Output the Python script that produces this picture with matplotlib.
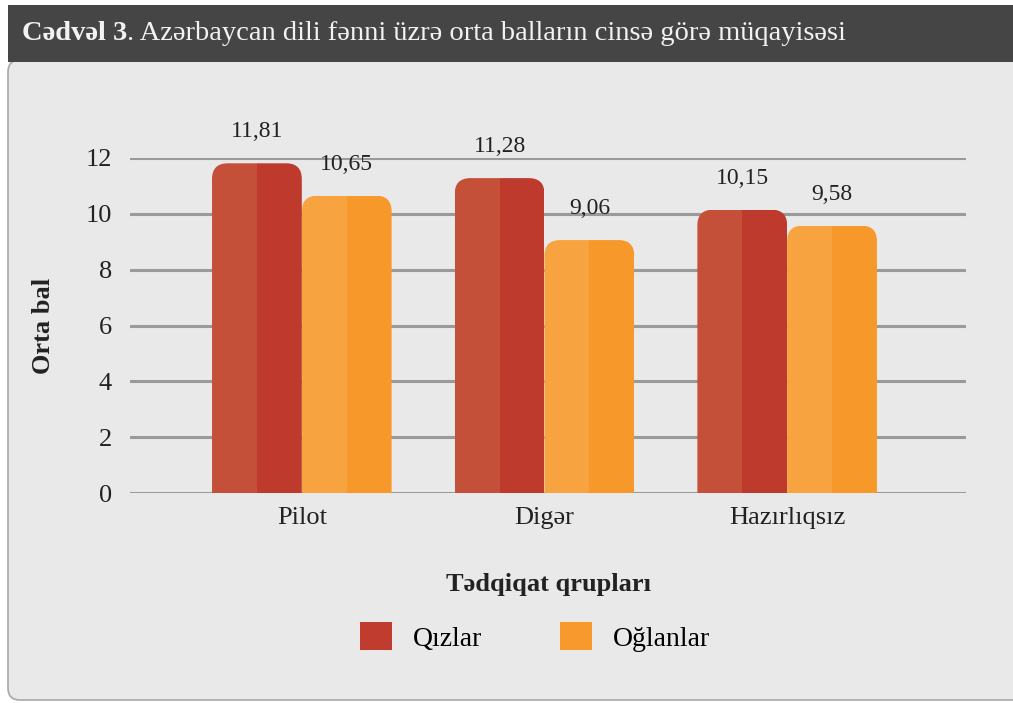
import matplotlib.pyplot as plt
from matplotlib.patches import Patch, Rectangle, FancyBboxPatch
import numpy as np

plt.rcParams['font.family'] = ['Liberation Serif', 'DejaVu Serif']

# Data
qruplar = ['Pilot', 'Digər', 'Hazırlıqsız']
qizlar = [11.81, 11.28, 10.15]
oglanlar = [10.65, 9.06, 9.58]
seriya_adlari = ['Qızlar', 'Oğlanlar']
yticks = [0, 2, 4, 6, 8, 10, 12]

qiz_renk = ('#c4503a', '#bd3a2d', '#c03c2e')
ogl_renk = ('#f7a440', '#f6982a', '#f7992c')

fig = plt.figure(figsize=(10.13, 7.03), dpi=100)
fig.patch.set_facecolor('white')

# panel + header (pixel coords)
panel = FancyBboxPatch((8, 3), 1100, 640, boxstyle='round,pad=0,rounding_size=12',
                       transform=None, facecolor='#e9e9e9', edgecolor='#a8a8a8', lw=1.2,
                       zorder=-2)
fig.patches.append(panel)
header = Rectangle((8, 641), 1010, 57, transform=None, facecolor='#454545',
                   edgecolor='none', zorder=-1)
fig.patches.append(header)

ax = fig.add_axes([130 / 1013, 210 / 703, 836 / 1013, 335 / 703])
ax.set_facecolor('none')
ax.set_zorder(2)
ax.set_xlim(-0.708, 2.737)
ax.set_ylim(0, 12)

x = np.arange(len(qruplar))
w = 0.37
q1 = ax.bar(x - 0.75 * w, qizlar, w / 2, color=qiz_renk[0], zorder=3)
q2 = ax.bar(x - 0.25 * w, qizlar, w / 2, color=qiz_renk[1], zorder=3)
o1 = ax.bar(x + 0.25 * w, oglanlar, w / 2, color=ogl_renk[0], zorder=3)
o2 = ax.bar(x + 0.75 * w, oglanlar, w / 2, color=ogl_renk[1], zorder=3)

# rounded top corners: clip each pair of halves to a rounded box
asp = (12 / 335) / (3.445 / 836)
for sol, sag in list(zip(q1, q2)) + list(zip(o1, o2)):
    x0 = sol.get_x()
    h = sol.get_height()
    kutu = FancyBboxPatch((x0, -1), 2 * sol.get_width(), h + 1,
                          boxstyle='round,pad=0,rounding_size=0.065', mutation_aspect=asp,
                          transform=ax.transData, facecolor='none', edgecolor='none')
    ax.add_patch(kutu)
    sol.set_clip_path(kutu)
    sag.set_clip_path(kutu)

for i in range(len(qruplar)):
    ax.annotate(f'{qizlar[i]:.2f}'.replace('.', ','), (x[i] - w / 2, qizlar[i]),
                xytext=(0, 15), textcoords='offset points', ha='center', va='bottom',
                fontsize=17, color='#222222', annotation_clip=False)
    ax.annotate(f'{oglanlar[i]:.2f}'.replace('.', ','), (x[i] + w / 2, oglanlar[i]),
                xytext=(0, 15), textcoords='offset points', ha='center', va='bottom',
                fontsize=17, color='#222222', annotation_clip=False)

ax.set_yticks(yticks)
ax.yaxis.grid(True, color='#9a9a9a', lw=2.2)
ax.set_axisbelow(True)
for s in ax.spines.values():
    s.set_visible(False)
ax.tick_params(axis='both', length=0, labelsize=19, colors='#222222')
ax.tick_params(axis='y', pad=13)
ax.tick_params(axis='x', pad=10)
ax.set_xticks(x)
ax.set_xticklabels(qruplar)

ax.set_ylabel('Orta bal', fontsize=19, fontweight='bold', color='#222222', labelpad=22)
ax.set_xlabel('Tədqiqat qrupları', fontsize=19, fontweight='bold', color='#222222', labelpad=32)

handles = [Patch(facecolor=qiz_renk[2], label=seriya_adlari[0]),
           Patch(facecolor=ogl_renk[2], label=seriya_adlari[1])]
fig.legend(handles=handles, loc='center', bbox_to_anchor=(0.528, 0.094), ncol=2,
           frameon=False, fontsize=20, handlelength=1.15, handleheight=1.15,
           handletextpad=0.75, columnspacing=2.8)

# title
t1 = fig.text(22 / 1013, 670 / 703, 'Cədvəl 3', fontsize=20.5, fontweight='bold',
              color='#f2f2f2', va='center')
r = fig.canvas.get_renderer()
bb = t1.get_window_extent(r)
fig.text(bb.x1 / 1013, 670 / 703, '. Azərbaycan dili fənni üzrə orta balların cinsə görə müqayisəsi',
         fontsize=20.5, color='#f2f2f2', va='center')

fig.savefig('out.png', dpi=100)
